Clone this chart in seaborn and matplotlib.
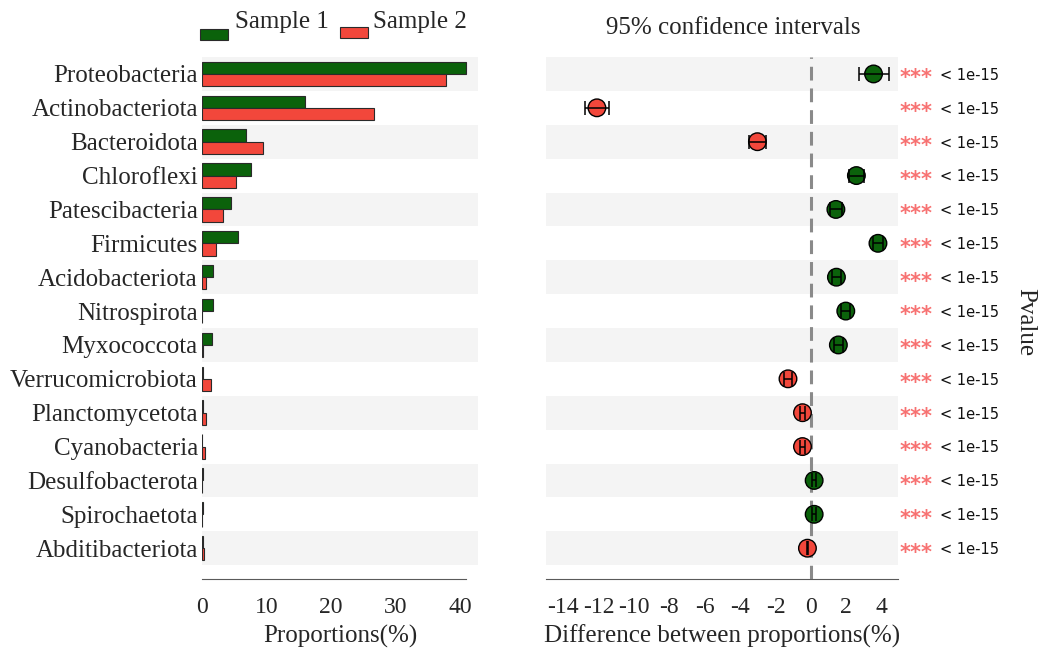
import numpy as np
import pandas as pd
import matplotlib
matplotlib.use("Agg")
import matplotlib.pyplot as plt
from matplotlib.patches import Rectangle
from matplotlib.transforms import blended_transform_factory
import seaborn as sns

# ---- data -------------------------------------------------------------
phyla = [
    "Proteobacteria", "Actinobacteriota", "Bacteroidota", "Chloroflexi",
    "Patescibacteria", "Firmicutes", "Acidobacteriota", "Nitrospirota",
    "Myxococcota", "Verrucomicrobiota", "Planctomycetota", "Cyanobacteria",
    "Desulfobacterota", "Spirochaetota", "Abditibacteriota",
]
sample_names = ["Sample 1", "Sample 2"]
sample1_pct = [41.0, 16.0, 6.8, 7.6, 4.5, 5.6, 1.75, 1.75, 1.55, 0.10, 0.08, 0.05, 0.20, 0.12, 0.08]
sample2_pct = [37.9, 26.7, 9.5, 5.2, 3.2, 2.1, 0.62, 0.05, 0.08, 1.35, 0.57, 0.42, 0.05, 0.04, 0.25]

diff_pct = [3.55, -12.10, -3.02, 2.58, 1.42, 3.80, 1.45, 1.98, 1.56, -1.29, -0.47, -0.47, 0.19, 0.19, -0.19]
ci_low = [2.74, -12.79, -3.50, 2.17, 1.08, 3.50, 1.20, 1.72, 1.32, -1.53, -0.62, -0.62, 0.08, 0.08, -0.24]
ci_high = [4.40, -11.43, -2.55, 3.02, 1.76, 4.10, 1.70, 2.24, 1.80, -1.05, -0.32, -0.32, 0.30, 0.30, -0.14]
significance = ["***"] * len(phyla)
pvalue_labels = ["< 1e-15"] * len(phyla)

left_ticklabels = ["0", "10", "20", "30", "40"]
right_ticklabels = ["-14", "-12", "-10", "-8", "-6", "-4", "-2", "0", "2", "4"]

# ---- style ------------------------------------------------------------
GREEN = "#0b620b"
RED = "#f2473b"
STAR = "#f77272"
BAND = "#f4f4f4"
AXIS = "#5a5a5a"

sns.set_style("white")
plt.rcParams["font.family"] = ["Liberation Serif", "DejaVu Serif"]
plt.rcParams["axes.unicode_minus"] = False

bars = pd.DataFrame({
    "phylum": phyla * 2,
    "sample": [sample_names[0]] * len(phyla) + [sample_names[1]] * len(phyla),
    "value": sample1_pct + sample2_pct,
})
points = pd.DataFrame({
    "phylum": phyla,
    "diff": diff_pct,
    "lo": ci_low,
    "hi": ci_high,
})
points["group"] = np.where(points["diff"] >= 0, sample_names[0], sample_names[1])
palette = {sample_names[0]: GREEN, sample_names[1]: RED}

fig = plt.figure(figsize=(10.38, 6.5), dpi=100)
ax1 = fig.add_axes([0.1946, 0.1092, 0.2659, 0.8031])
ax2 = fig.add_axes([0.5257, 0.1092, 0.3397, 0.8031])

n = len(phyla)
for ax in (ax1, ax2):
    for i in range(0, n, 2):
        ax.axhspan(i - 0.5, i + 0.5, color=BAND, zorder=0, lw=0)

# ---- left: proportions per sample ------------------------------------
sns.barplot(data=bars, x="value", y="phylum", hue="sample", order=phyla,
            hue_order=sample_names, palette=palette, orient="h", width=0.72,
            saturation=1, edgecolor="#2a2a2a", linewidth=0.8, legend=False,
            ax=ax1, zorder=2)
ax1.set_xlim(0, 42.8)
ax1.set_ylim(n - 0.09, -0.5)
ax1.set_xlabel("Proportions(%)", fontsize=18, labelpad=5)
ax1.set_ylabel("")
for s in ("top", "right", "left"):
    ax1.spines[s].set_visible(False)
ax1.spines["bottom"].set_bounds(0, 41)
ax1.spines["bottom"].set_color(AXIS)
ax1.xaxis.remove_overlapping_locs = False
tick_marks = list(np.linspace(0, 40, 10)) + [41]
ax1.set_xticks(tick_marks)
ax1.set_xticklabels([""] * len(tick_marks))
ax1.set_xticks([0, 10, 20, 30, 40], minor=True)
ax1.set_xticklabels(left_ticklabels, minor=True)
ax1.tick_params(axis="x", which="major", direction="in", length=7, width=1, color=AXIS)
ax1.tick_params(axis="x", which="minor", length=0, labelsize=17, pad=13)
ax1.tick_params(axis="y", length=0, labelsize=18, pad=3)

# ---- right: difference with 95% CI -----------------------------------
ax2.axvline(0, color="#8a8a8a", lw=2.2, ls=(0, (4.5, 2.6)), zorder=3)
sns.scatterplot(data=points, x="diff", y="phylum", hue="group", palette=palette,
                s=160, edgecolor="black", linewidth=1, legend=False, ax=ax2, zorder=4)
ax2.errorbar(points["diff"], points["phylum"],
             xerr=[points["diff"] - points["lo"], points["hi"] - points["diff"]],
             fmt="none", ecolor="black", elinewidth=1.1, capsize=5, capthick=1.1, zorder=5)
ax2.set_xlim(-15, 4.95)
ax2.set_ylim(n - 0.09, -0.5)
ax2.set_xlabel("Difference between proportions(%)", fontsize=18, labelpad=5)
ax2.set_ylabel("")
for s in ("top", "right", "left"):
    ax2.spines[s].set_visible(False)
ax2.spines["bottom"].set_color(AXIS)
ax2.set_yticks([])
ax2.set_xticks(list(range(-14, 5, 2)))
ax2.set_xticklabels(right_ticklabels)
ax2.set_xticks([-15, 4.95], minor=True)
ax2.tick_params(axis="x", which="both", direction="in", length=7, width=1,
                color=AXIS, labelsize=17, pad=13)

# significance marks and p-values
tr = blended_transform_factory(ax2.transAxes, ax2.transData)
for i in range(n):
    ax2.annotate(significance[i], xy=(1.004, i), xycoords=tr, xytext=(0, -7.5),
                 textcoords="offset points", va="baseline", ha="left",
                 fontsize=15, fontweight="bold", color=STAR, family="DejaVu Sans",
                 annotation_clip=False)
    ax2.text(1.118, i + 0.04, pvalue_labels[i], transform=tr, va="center", ha="left",
             fontsize=10.5, family="DejaVu Sans", color="#111111")

# ---- titles and legend -----------------------------------------------
fig.text(733 / 1038, 1 - 28 / 650, "95% confidence intervals", ha="center",
         va="center", fontsize=18)
fig.text(1025 / 1038, 1 - 322 / 650, "Pvalue", rotation=270, ha="center",
         va="center", fontsize=18)

legend_items = [(sample_names[0], GREEN, 200, 235), (sample_names[1], RED, 340, 373)]
for name, col, px, tx in legend_items:
    top = 29 if col == GREEN else 27
    fig.patches.append(Rectangle((px / 1038, 1 - (top + 11) / 650), 28 / 1038, 11 / 650,
                                 transform=fig.transFigure, facecolor=col,
                                 edgecolor="#2a2a2a", lw=0.8))
    fig.text(tx / 1038, 1 - 28 / 650, name, ha="left", va="baseline", fontsize=18)

fig.savefig("out.png", dpi=100)
